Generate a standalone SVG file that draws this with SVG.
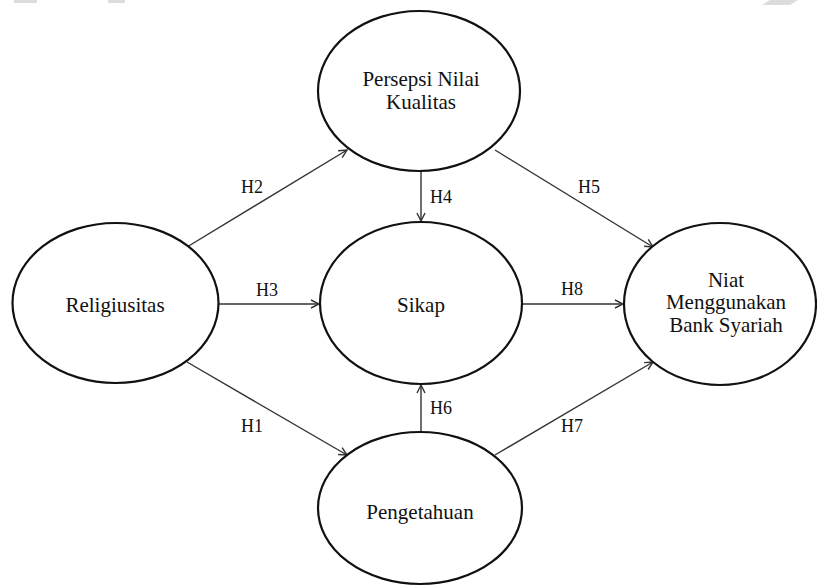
<svg xmlns="http://www.w3.org/2000/svg" width="817" height="586" viewBox="0 0 817 586">
<style>
.node{fill:#fff;stroke:#111;stroke-width:2.2}
.lbl{font-family:'Liberation Serif','DejaVu Serif',serif;font-size:21px;fill:#111;text-anchor:middle}
.h{font-family:'Liberation Serif','DejaVu Serif',serif;font-size:18px;fill:#111;text-anchor:middle}
.edge{stroke:#333;stroke-width:1.4;fill:none;marker-end:url(#arr)}
.wm{fill:#dcdcdc}
</style>
<defs>
<marker id="arr" viewBox="0 0 10 10" refX="9" refY="5" markerWidth="10" markerHeight="10" markerUnits="userSpaceOnUse" orient="auto">
<path d="M1,1 L9,5 L1,9" fill="none" stroke="#333" stroke-width="1.4"/>
</marker>
</defs>
<rect width="817" height="586" fill="#fff"/>
<g id="watermark">
<rect class="wm" x="14" y="0" width="23" height="3"/>
<rect class="wm" x="108" y="0" width="17" height="3"/>
<polygon class="wm" points="762,5 770,0 798,0 790,5"/>
</g>
<g id="connectors">
<line class="edge" x1="187" y1="247" x2="347" y2="150"/>
<line class="edge" x1="495" y1="150" x2="653" y2="247"/>
<line class="edge" x1="218" y1="304" x2="319" y2="304"/>
<line class="edge" x1="522" y1="304" x2="623" y2="304"/>
<line class="edge" x1="421" y1="171" x2="421" y2="221"/>
<line class="edge" x1="421" y1="432" x2="421" y2="385"/>
<line class="edge" x1="187" y1="362" x2="347" y2="455"/>
<line class="edge" x1="495" y1="455" x2="653" y2="362"/>
<text class="h" x="252" y="193">H2</text>
<text class="h" x="589" y="193">H5</text>
<text class="h" x="441" y="203">H4</text>
<text class="h" x="267" y="296">H3</text>
<text class="h" x="572" y="295">H8</text>
<text class="h" x="441" y="414">H6</text>
<text class="h" x="252" y="432">H1</text>
<text class="h" x="572" y="432">H7</text>
</g>
<g id="persepsi">
<ellipse class="node" cx="419" cy="91" rx="101" ry="80"/>
<text class="lbl" x="421" y="86">Persepsi Nilai</text>
<text class="lbl" x="421" y="109">Kualitas</text>
</g>
<g id="religiusitas">
<ellipse class="node" cx="115.5" cy="303" rx="103" ry="80"/>
<text class="lbl" x="115" y="312">Religiusitas</text>
</g>
<g id="sikap">
<ellipse class="node" cx="421" cy="303" rx="101" ry="81"/>
<text class="lbl" x="421" y="312">Sikap</text>
</g>
<g id="niat">
<ellipse class="node" cx="720" cy="304" rx="96" ry="81"/>
<text class="lbl" x="726" y="287">Niat</text>
<text class="lbl" x="726" y="309">Menggunakan</text>
<text class="lbl" x="726" y="332">Bank Syariah</text>
</g>
<g id="pengetahuan">
<ellipse class="node" cx="420" cy="508" rx="102" ry="76"/>
<text class="lbl" x="420" y="519">Pengetahuan</text>
</g>
</svg>
